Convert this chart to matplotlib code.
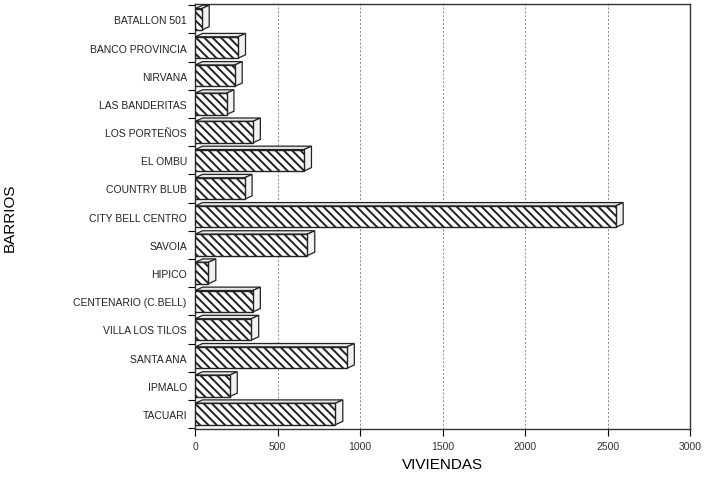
import matplotlib.pyplot as plt
from matplotlib.patches import Polygon

barrios = ["BATALLON 501", "BANCO PROVINCIA", "NIRVANA", "LAS BANDERITAS",
           "LOS PORTEÑOS", "EL OMBU", "COUNTRY BLUB", "CITY BELL CENTRO",
           "SAVOIA", "HIPICO", "CENTENARIO (C.BELL)", "VILLA LOS TILOS",
           "SANTA ANA", "IPMALO", "TACUARI"]
viviendas = [40, 260, 240, 190, 350, 660, 300, 2550,
             680, 80, 350, 340, 920, 210, 850]
xticks = [0, 500, 1000, 1500, 2000, 2500, 3000]

plt.rcParams['font.family'] = ['Liberation Sans', 'DejaVu Sans']
plt.rcParams['hatch.linewidth'] = 1.4

fig = plt.figure(figsize=(7.15, 4.81), dpi=100)
ax = fig.add_axes([0.273, 0.105, 0.692, 0.885])

n = len(barrios)
ys = [n - 1 - i for i in range(n)]
h = 0.76
dx, dy = 45, 0.12  # depth of the 3D effect

for y, v in zip(ys, viviendas):
    top = Polygon([(0, y + h / 2), (dx, y + h / 2 + dy), (v + dx, y + h / 2 + dy), (v, y + h / 2)],
                  closed=True, facecolor='#e8e8e8', edgecolor='#222222', lw=0.9, zorder=3)
    side = Polygon([(v, y - h / 2), (v, y + h / 2), (v + dx, y + h / 2 + dy), (v + dx, y - h / 2 + dy)],
                   closed=True, facecolor='#f2f2f2', edgecolor='#222222', lw=0.9, zorder=3)
    ax.add_patch(top)
    ax.add_patch(side)

ax.barh(ys, viviendas, height=h, color='white', edgecolor='#222222',
        hatch='\\\\\\\\', lw=1.0, zorder=4)

ax.set_xlim(0, 3000)
ax.set_ylim(-0.55, n - 0.45)
ax.set_xticks(xticks)
ax.set_xticklabels([str(t) for t in xticks], fontsize=7.5, color='#333333')
ax.set_yticks(ys)
ax.set_yticklabels(barrios, fontsize=7.5, color='#222222')
ax.set_yticks([y + 0.5 for y in range(-1, n)], minor=True)
ax.tick_params(axis='y', which='major', length=0, pad=6)
ax.tick_params(axis='y', which='minor', length=5, width=0.8)
ax.tick_params(axis='x', length=5, width=0.8)

ax.grid(axis='x', linestyle=(0, (2, 2)), color='#888888', lw=0.7, zorder=0)
for s in ax.spines.values():
    s.set_linewidth(1.0)
    s.set_color('#333333')

ax.set_xlabel('VIVIENDAS', fontsize=11, labelpad=4)
ax.set_ylabel('BARRIOS', fontsize=11)
ax.yaxis.set_label_coords(-0.36, 0.5)

plt.savefig('out.png', dpi=100)
